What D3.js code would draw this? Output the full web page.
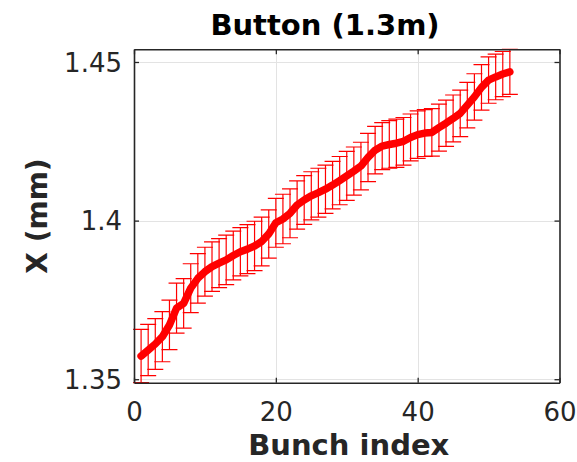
<!DOCTYPE html>
<html>
<head>
<meta charset="utf-8">
<script src="https://cdn.jsdelivr.net/npm/d3@7"></script>
<style>
  html, body { margin: 0; padding: 0; background: #fff; }
  svg { display: block; font-family: "DejaVu Sans", sans-serif; }
</style>
</head>
<body>
<svg id="chart" width="577" height="462"></svg>
<script>
// Bunch index along the train
const bunchIndex = d3.range(1, 54);

// Mean horizontal position per bunch (mm)
const positionX = [
  1.3573, 1.3592, 1.3611, 1.3634, 1.3671, 1.3724, 1.3739, 1.3787, 1.3818, 1.3839,
  1.3855, 1.3866, 1.3876, 1.3890, 1.3902, 1.3910, 1.3920, 1.3934, 1.3958, 1.3993,
  1.4005, 1.4023, 1.4049, 1.4065, 1.4078, 1.4088, 1.4099, 1.4112, 1.4126, 1.4141,
  1.4156, 1.4172, 1.4199, 1.4222, 1.4235, 1.4240, 1.4244, 1.4250, 1.4262, 1.4271,
  1.4276, 1.4278, 1.4293, 1.4307, 1.4322, 1.4338, 1.4364, 1.4390, 1.4420, 1.4443,
  1.4453, 1.4462, 1.4469
];

// Standard deviation per bunch (mm)
const positionErr = [
  0.0084, 0.0081, 0.0080, 0.0079, 0.0078, 0.0079, 0.0078, 0.0077, 0.0078, 0.0077,
  0.0078, 0.0077, 0.0078, 0.0077, 0.0076, 0.0077, 0.0078, 0.0077, 0.0076, 0.0077,
  0.0078, 0.0077, 0.0076, 0.0077, 0.0076, 0.0077, 0.0076, 0.0075, 0.0076, 0.0077,
  0.0076, 0.0075, 0.0076, 0.0075, 0.0074, 0.0075, 0.0076, 0.0075, 0.0074, 0.0075,
  0.0074, 0.0075, 0.0074, 0.0073, 0.0074, 0.0073, 0.0072, 0.0073, 0.0072, 0.0073,
  0.0072, 0.0071, 0.0071
];

const xTicks = [0, 20, 40, 60];
const yTicks = [1.35, 1.4, 1.45];
const yTickLabels = ["1.35", "1.4", "1.45"];

const titleText = "Button (1.3m)";
const xLabelText = "Bunch index";
const yLabelText = "X (mm)";

const data = bunchIndex.map((b, i) => ({ b, v: positionX[i], e: positionErr[i] }));

const svg = d3.select("#chart");
const box = { left: 134, right: 559.5, top: 49.3, bottom: 382.7 };
const axisColor = "#262626";

const x = d3.scaleLinear().domain([0, 60]).range([box.left, box.right]);
// tight limits around the error bars
const yMin = d3.min(data, d => d.v - d.e);
const yMax = d3.max(data, d => d.v + d.e);
const y = d3.scaleLinear().domain([yMin, yMax]).range([box.bottom, box.top]);

// grid
const grid = svg.append("g").attr("stroke", "#e3e3e3").attr("stroke-width", 1);
grid.selectAll("line.gx").data(xTicks.filter(t => t > 0 && t < 60)).join("line")
  .attr("x1", d => Math.round(x(d)) + 0.5).attr("x2", d => Math.round(x(d)) + 0.5)
  .attr("y1", box.top).attr("y2", box.bottom);
grid.selectAll("line.gy").data(yTicks).join("line")
  .attr("y1", d => Math.round(y(d)) + 0.5).attr("y2", d => Math.round(y(d)) + 0.5)
  .attr("x1", box.left).attr("x2", box.right);

// error bars
const capHalf = 8;
const eb = svg.append("g").attr("stroke", "#ff0000").attr("stroke-width", 1.2).attr("fill", "none");
eb.selectAll("path").data(data).join("path")
  .attr("d", d => {
    const cx = x(d.b), top = y(d.v + d.e), bot = y(d.v - d.e);
    return `M${cx},${top}V${bot}M${cx - capHalf},${top}H${cx + capHalf}M${cx - capHalf},${bot}H${cx + capHalf}`;
  });

// mean position line
svg.append("path").datum(data)
  .attr("fill", "none").attr("stroke", "#ff0000").attr("stroke-width", 7.5)
  .attr("stroke-linejoin", "round").attr("stroke-linecap", "round")
  .attr("d", d3.line().x(d => x(d.b)).y(d => y(d.v)));

// axes box with inward ticks on all four sides
const axG = svg.append("g");
const bottomAxis = d3.axisBottom(x).tickValues(xTicks).tickSizeInner(-5).tickSizeOuter(0).tickFormat(d3.format("d"));
const topAxis = d3.axisTop(x).tickValues(xTicks).tickSizeInner(-5).tickSizeOuter(0).tickFormat("");
const leftAxis = d3.axisLeft(y).tickValues(yTicks).tickSizeInner(-5).tickSizeOuter(0).tickFormat((d, i) => yTickLabels[i]);
const rightAxis = d3.axisRight(y).tickValues(yTicks).tickSizeInner(-5).tickSizeOuter(0).tickFormat("");

function styleAxis(g) {
  g.select(".domain").attr("stroke", axisColor).attr("stroke-width", 1.6);
  g.selectAll(".tick line").attr("stroke", axisColor).attr("stroke-width", 1.3);
  g.selectAll(".tick text").attr("fill", axisColor).attr("font-size", 26)
    .attr("font-family", "DejaVu Sans, sans-serif");
}

axG.append("g").attr("transform", `translate(0,${box.bottom})`).call(bottomAxis).call(styleAxis)
  .call(g => g.selectAll(".tick text").attr("dy", null).attr("y", 38));
axG.append("g").attr("transform", `translate(0,${box.top})`).call(topAxis).call(styleAxis);
axG.append("g").attr("transform", `translate(${box.left},0)`).call(leftAxis).call(styleAxis)
  .call(g => g.selectAll(".tick text").attr("x", -12).attr("dy", "0.36em"));
axG.append("g").attr("transform", `translate(${box.right},0)`).call(rightAxis).call(styleAxis);

// title and axis labels
const cx = (box.left + box.right) / 2;
svg.append("text").attr("x", 325).attr("y", 35).attr("text-anchor", "middle")
  .attr("font-size", 29).attr("font-weight", "bold").attr("fill", "#000").text(titleText);
svg.append("text").attr("x", cx + 2).attr("y", 455).attr("text-anchor", "middle")
  .attr("font-size", 29).attr("font-weight", "bold").attr("fill", axisColor).text(xLabelText);
svg.append("text").attr("transform", `translate(47,${(box.top + box.bottom) / 2}) rotate(-90)`)
  .attr("text-anchor", "middle")
  .attr("font-size", 28).attr("font-weight", "bold").attr("fill", axisColor).text(yLabelText);
</script>
</body>
</html>
